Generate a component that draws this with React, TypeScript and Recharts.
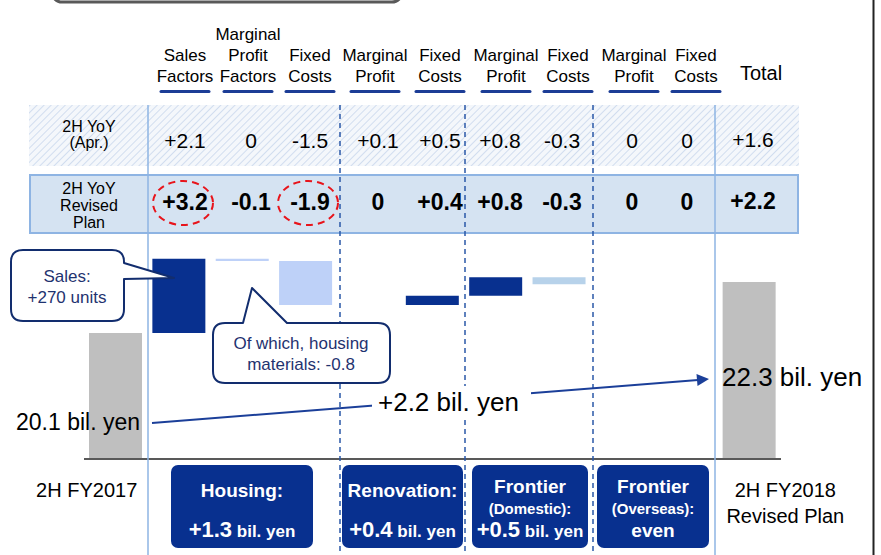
import React from 'react';
import { ComposedChart, Bar, XAxis, YAxis, Cell } from 'recharts';

// 2H operating income bridge (bil. yen), FY2017 -> FY2018 revised plan
const START_LABEL = '2H FY2017';
const END_LABEL = ['2H FY2018', 'Revised Plan'];
const START_VALUE = 20.1;
const END_VALUE = 22.3;

const FACTOR_HEADS = [
  ['Sales', 'Factors'],
  ['Marginal', 'Profit', 'Factors'],
  ['Fixed', 'Costs'],
  ['Marginal', 'Profit'],
  ['Fixed', 'Costs'],
  ['Marginal', 'Profit'],
  ['Fixed', 'Costs'],
  ['Marginal', 'Profit'],
  ['Fixed', 'Costs'],
];
const FACTOR_SEGMENT = [0, 0, 0, 1, 1, 2, 2, 3, 3];
const YOY_APR = [2.1, 0, -1.5, 0.1, 0.5, 0.8, -0.3, 0, 0];
const YOY_APR_TOTAL = 1.6;
const YOY_REVISED = [3.2, -0.1, -1.9, 0, 0.4, 0.8, -0.3, 0, 0];
const YOY_REVISED_TOTAL = 2.2;
const CIRCLED = [0, 2];

const SEGMENT_NAMES = ['Housing', 'Renovation', 'Frontier', 'Frontier'];
const SEGMENT_SUB = ['', '', 'Domestic', 'Overseas'];
const SEGMENT_RESULT = [1.3, 0.4, 0.5, 0];

// axis is cut below the first bar
const AXIS_MIN = 14.66;
const AXIS_MAX = 24.11;

const FONT = '"Liberation Sans", Arial, Helvetica, sans-serif';
const NAVY = '#08308f';
const LINE_BLUE = '#8eb4e3';

// table / box layout
const HEAD_X = [185, 248, 310, 375, 440, 506, 568, 634, 696];
const VAL_X = [185, 251, 310, 378, 440, 500, 562, 632, 687];
const TOTAL_X = 753;
const SOLID_X = [148, 715];
const DASH_X = [340, 465, 593];
const BOX_X = [[171, 313], [342, 463], [472, 588], [597, 709]];

const fmt = (v: number) => (v > 0 ? `+${v.toFixed(1)}` : v < 0 ? `-${Math.abs(v).toFixed(1)}` : '0');

type Step = { key: string; range: [number, number]; kind: 'total' | 'up' | 'down'; seg: number };

const steps: Step[] = [];
let level = START_VALUE;
steps.push({ key: 'start', range: [AXIS_MIN, START_VALUE], kind: 'total', seg: -1 });
YOY_REVISED.forEach((d, i) => {
  const next = +(level + d).toFixed(1);
  steps.push({
    key: `f${i}`,
    range: [Math.min(level, next), Math.max(level, next)],
    kind: d >= 0 ? 'up' : 'down',
    seg: FACTOR_SEGMENT[i],
  });
  level = next;
});
steps.push({ key: 'end', range: [AXIS_MIN, END_VALUE], kind: 'total', seg: -1 });

const fillFor = (s: Step) => {
  if (s.kind === 'total') return '#bfbfbf';
  if (s.kind === 'up') return NAVY;
  return s.seg === 0 ? '#bed1f8' : '#b7d2ea';
};

function EndTick(props: any) {
  const { x, payload } = props;
  if (payload.value === 'start') {
    return (
      <text x={x - 29} y={497} textAnchor="middle" fontSize={20} fontFamily={FONT} fill="#000">
        {START_LABEL}
      </text>
    );
  }
  if (payload.value === 'end') {
    return (
      <text textAnchor="middle" fontSize={20} fontFamily={FONT} fill="#000">
        <tspan x={x + 36} y={497}>{END_LABEL[0]}</tspan>
        <tspan x={x + 36} y={523}>{END_LABEL[1]}</tspan>
      </text>
    );
  }
  return <g />;
}

function Table() {
  return (
    <g fontFamily={FONT} fill="#000">
      {/* column headers */}
      {FACTOR_HEADS.map((lines, i) => {
        const base = lines.length === 3 ? [40, 61, 82] : [61, 82];
        return (
          <g key={i}>
            <text textAnchor="middle" fontSize={17}>
              {lines.map((t, j) => (
                <tspan key={j} x={HEAD_X[i]} y={base[j]}>{t}</tspan>
              ))}
            </text>
            <line x1={HEAD_X[i] - 24} x2={HEAD_X[i] + 24} y1={91.5} y2={91.5} stroke="#1c3d96" strokeWidth={3} strokeLinecap="round" />
          </g>
        );
      })}
      <text x={761} y={80} textAnchor="middle" fontSize={20}>Total</text>

      {/* April plan row */}
      <rect x={29} y={105} width={770} height={61} fill="url(#hatch)" />
      <text textAnchor="middle" fontSize={16}>
        <tspan x={89} y={132}>2H YoY</tspan>
        <tspan x={89} y={148}>(Apr.)</tspan>
      </text>
      {YOY_APR.map((v, i) => (
        <text key={i} x={VAL_X[i]} y={148} textAnchor="middle" fontSize={21}>{fmt(v)}</text>
      ))}
      <text x={TOTAL_X} y={147} textAnchor="middle" fontSize={21}>{fmt(YOY_APR_TOTAL)}</text>

      {/* revised plan row */}
      <rect x={30} y={175} width={768} height={58} fill="#d5e3f2" stroke={LINE_BLUE} strokeWidth={2} />
      <text textAnchor="middle" fontSize={16}>
        <tspan x={89} y={194}>2H YoY</tspan>
        <tspan x={89} y={211}>Revised</tspan>
        <tspan x={89} y={228}>Plan</tspan>
      </text>
      {YOY_REVISED.map((v, i) => (
        <text key={i} x={VAL_X[i]} y={210} textAnchor="middle" fontSize={23} fontWeight="bold">{fmt(v)}</text>
      ))}
      <text x={TOTAL_X} y={209} textAnchor="middle" fontSize={23} fontWeight="bold">{fmt(YOY_REVISED_TOTAL)}</text>
      {CIRCLED.map((i) => (
        <ellipse key={i} cx={VAL_X[i] - 2} cy={203} rx={30} ry={22} fill="none" stroke="#e8141b" strokeWidth={2} strokeDasharray="7 5" />
      ))}
    </g>
  );
}

function SegmentBoxes() {
  return (
    <g fontFamily={FONT} fontWeight="bold" fill="#fff" textAnchor="middle">
      {BOX_X.map(([x0, x1], i) => {
        const cx = (x0 + x1) / 2;
        const sub = SEGMENT_SUB[i];
        const v = SEGMENT_RESULT[i];
        return (
          <g key={i}>
            <rect x={x0} y={465} width={x1 - x0} height={83} rx={7} fill={NAVY} />
            <text x={cx} y={sub ? 493 : 497} fontSize={19}>{SEGMENT_NAMES[i] + (sub ? '' : ':')}</text>
            {sub && <text x={cx} y={514} fontSize={15}>{`(${sub}):`}</text>}
            {v === 0 ? (
              <text x={cx} y={537} fontSize={19}>even</text>
            ) : (
              <text x={cx} y={537}>
                <tspan fontSize={22}>{fmt(v)}</tspan>
                <tspan fontSize={17}> bil. yen</tspan>
              </text>
            )}
          </g>
        );
      })}
    </g>
  );
}

function Annotations() {
  const calloutText = '#1f3370';
  const calloutLine = '#122d6e';
  return (
    <g fontFamily={FONT}>
      {/* step arrow */}
      <line x1={152} y1={423} x2={698} y2={380} stroke="#1b3f99" strokeWidth={2} />
      <polygon points="709,379 696.5,374 697.5,386" fill="#1b3f99" />
      <rect x={372} y={386} width={159} height={31} fill="#fff" />
      <text x={378} y={411} fontSize={26} fill="#000">{`${fmt(YOY_REVISED_TOTAL)} bil. yen`}</text>
      <text x={16} y={430} fontSize={23} fill="#000">{`${START_VALUE.toFixed(1)} bil. yen`}</text>
      <text x={722} y={386} fontSize={26} fill="#000">{`${END_VALUE.toFixed(1)} bil. yen`}</text>

      {/* sales callout */}
      <path
        d="M23 250 H112 Q124 250 124 262 L124 263 L174 278 L124 279 V309 Q124 321 112 321 H23 Q11 321 11 309 V262 Q11 250 23 250 Z"
        fill="#fff"
        stroke={calloutLine}
        strokeWidth={2}
        strokeLinejoin="round"
      />
      <text textAnchor="middle" fontSize={17} fill={calloutText}>
        <tspan x={67} y={282}>Sales:</tspan>
        <tspan x={67} y={303}>+270 units</tspan>
      </text>

      {/* housing materials callout */}
      <path
        d="M225 323 H243 L252 288 L287 323 H378 Q390 323 390 335 V371 Q390 383 378 383 H225 Q213 383 213 371 V335 Q213 323 225 323 Z"
        fill="#fff"
        stroke={calloutLine}
        strokeWidth={2}
        strokeLinejoin="round"
      />
      <text textAnchor="middle" fontSize={17} fill={calloutText}>
        <tspan x={301} y={349}>Of which, housing</tspan>
        <tspan x={301} y={370}>materials: -0.8</tspan>
      </text>
    </g>
  );
}

export default function App() {
  return (
    <div style={{ position: 'absolute', left: 0, top: 0, width: 881, height: 555, background: '#fff', overflow: 'hidden' }}>
      <ComposedChart width={881} height={555} data={steps} margin={{ top: 240, right: 100, bottom: 0, left: 84 }}>
        <XAxis
          dataKey="key"
          height={96}
          interval={0}
          tickLine={false}
          axisLine={{ stroke: '#595959', strokeWidth: 2 }}
          tick={(p: any) => <EndTick {...p} />}
        />
        <YAxis hide type="number" domain={[AXIS_MIN, AXIS_MAX]} allowDataOverflow />
        <Bar dataKey="range" barSize={53} isAnimationActive={false}>
          {steps.map((s) => (
            <Cell key={s.key} fill={fillFor(s)} />
          ))}
        </Bar>
      </ComposedChart>

      <svg width={881} height={555} style={{ position: 'absolute', left: 0, top: 0, pointerEvents: 'none' }}>
        <defs>
          <pattern id="hatch" width="5" height="5" patternUnits="userSpaceOnUse" patternTransform="rotate(45)">
            <rect width="5" height="5" fill="#f4f7fb" />
            <line x1="0" y1="0" x2="0" y2="5" stroke="#c9d7ec" strokeWidth="1.6" />
          </pattern>
        </defs>

        <rect x={52} y={-30} width={350} height={32} rx={10} fill="none" stroke="#595959" strokeWidth={3} />
        <line x1={873.5} x2={873.5} y1={0} y2={555} stroke="#222" strokeWidth={2} />

        <Table />

        {SOLID_X.map((x) => (
          <line key={x} x1={x} x2={x} y1={105} y2={555} stroke={LINE_BLUE} strokeWidth={1.5} />
        ))}
        {DASH_X.map((x) => (
          <line key={x} x1={x} x2={x} y1={105} y2={555} stroke="#2a58a8" strokeWidth={1.5} strokeDasharray="5 4" />
        ))}

        <SegmentBoxes />
        <Annotations />
      </svg>
    </div>
  );
}
